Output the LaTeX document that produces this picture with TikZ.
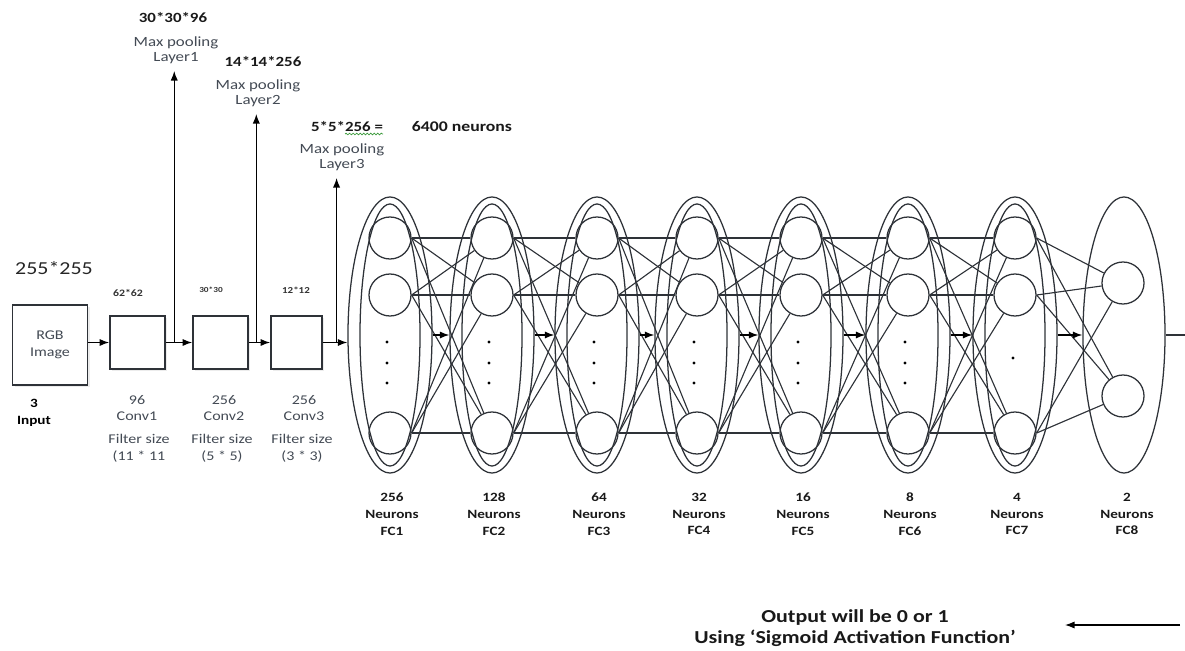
\documentclass[tikz,border=0pt]{standalone}
\usepackage{fontspec}
\setmainfont{Carlito}[FakeStretch=1.2]
\usetikzlibrary{shadows, positioning, shapes.geometric, calc, arrows.meta, decorations.pathmorphing}
\definecolor{inkgray}{HTML}{2E3238}
\definecolor{labelgray}{HTML}{434A54}
\definecolor{spellgreen}{HTML}{3C9A3C}

\begin{document}
\begin{tikzpicture}[
		x=0.025cm, y=-0.025cm,
		>={Latex[length=2.4mm,width=1.8mm]},
		layerbox/.style={
			draw=inkgray, line width=1.2pt, fill=white,
			minimum width=1.375cm, minimum height=1.325cm,
			drop shadow={opacity=0.15, shadow xshift=0.6mm, shadow yshift=-0.6mm}
		},
		neuron/.style={circle, draw=inkgray, line width=0.9pt, minimum size=1.05cm, inner sep=0pt},
		outerlayer/.style={ellipse, draw=inkgray, line width=0.9pt, minimum width=2.1cm, minimum height=6.9cm, inner sep=0pt},
		innerlayer/.style={ellipse, draw=inkgray, line width=0.9pt, minimum width=1.5cm, minimum height=6.55cm, inner sep=0pt},
		link/.style={draw=inkgray, line width=0.8pt},
		flow/.style={->, draw=black, line width=0.9pt},
		sizetext/.style={font=\bfseries\fontsize{10}{11}\selectfont, text=black!90},
		pooltext/.style={font=\fontsize{10}{10.8}\selectfont, text=labelgray, align=center, inner sep=1pt},
		convtext/.style={font=\fontsize{9.5}{12}\selectfont, text=labelgray, align=center},
		fctext/.style={font=\bfseries\fontsize{9}{12}\selectfont, text=black!90, align=center}
		]
		\useasboundingbox (0,0) rectangle (1185,651);
		
		% ==========================================
		% INPUT AND CONVOLUTION BLOCKS
		% ==========================================
		
		\node[font=\fontsize{13}{14}\selectfont, text=black!85] (insize) at (54,268) {255*255};
		\node[layerbox, minimum width=1.875cm, minimum height=2cm, convtext] (rgb) at (50,345) {RGB\\Image};
		\node[font=\bfseries\fontsize{9}{12}\selectfont, align=center] (inlab) at (34,413) {3\\Input};
		
		\node[layerbox] (conv1) at (137.5,342.5) {};
		\node[layerbox] (conv2) at (220.5,342.5) {};
		\node[layerbox, minimum width=1.275cm] (conv3) at (296.5,342.5) {};
		
		% Feature map sizes above the boxes
		\node[font=\bfseries\fontsize{7}{8}\selectfont, text=black!80] (c1size) at (128,293) {62*62};
		\node[font=\bfseries\fontsize{5.5}{6}\selectfont, text=black!80] (c2size) at (211,290) {30*30};
		\node[font=\bfseries\fontsize{6.5}{7}\selectfont, text=black!80] (c3size) at (296,290) {12*12};
		
		% Captions below the boxes
		\node[convtext] (c1lab) at (137,408) {96\\Conv1};
		\node[convtext] (c1filt) at (139,448) {Filter size\\(11 * 11};
		\node[convtext] (c2lab) at (224,408) {256\\Conv2};
		\node[convtext] (c2filt) at (222,448) {Filter size\\(5 * 5)};
		\node[convtext] (c3lab) at (304,408) {256\\Conv3};
		\node[convtext] (c3filt) at (302,448) {Filter size\\(3 * 3)};
		
		% ==========================================
		% FULLY CONNECTED LAYERS
		% ==========================================
		
		\foreach \name/\xc/\count in {1/390/256, 2/492/128, 3/597/64, 4/697/32, 5/801/16, 6/908/8, 7/1015/4} {
			\node[outerlayer] (fc\name) at (\xc,335) {};
			\node[innerlayer] (fc\name inner) at (\xc,335) {};
			\node[neuron] (fc\name top) at (\xc,238) {};
			\node[neuron] (fc\name mid) at (\xc,295) {};
			\node[neuron] (fc\name bot) at (\xc,433) {};
			\node[fctext] (fc\name lab) at (\xc+2,514) {\count\\Neurons\\FC\name};
		}
		
		% Last layer: two neurons, single ellipse
		\node[outerlayer, minimum width=2.05cm] (fc8) at (1124,335) {};
		\node[neuron] (fc8top) at (1123,283) {};
		\node[neuron] (fc8bot) at (1123,396) {};
		\node[fctext] (fc8lab) at (1127,514) {2\\Neurons\\FC8};
		
		% Dots for the hidden neurons
		\foreach \xc in {390, 492, 597, 697, 801, 908} {
			\foreach \yc in {342, 363, 383}
				\fill[black] (\xc-3,\yc) circle (1.2pt);
		}
		\fill[black] (1013,358) circle (1.2pt);
		
		% Dense connections
		\foreach \i/\j in {1/2, 2/3, 3/4, 4/5, 5/6, 6/7} {
			\foreach \s in {top, mid, bot}
				\foreach \t in {top, mid, bot}
					\draw[link] (fc\i\s.east) -- (fc\j\t);
			\draw[flow] (fc\i.east) -- (fc\j.west);
		}
		\foreach \s in {top, mid, bot} {
			\draw[link] (fc7\s.east) -- (fc8top);
			\draw[link] (fc7\s.east) -- (fc8bot);
		}
		\draw[flow] (fc7.east) -- (fc8.west);
		
		% ==========================================
		% DATA FLOW AND POOLING BRANCHES
		% ==========================================
		
		\draw[flow] (rgb.east |- conv1) -- (conv1.west);
		\draw[flow] (conv1) -- (conv2);
		\draw[flow] (conv2) -- (conv3);
		\draw[flow] (conv3.east) -- (conv3.east -| fc1.west);
		
		\coordinate (pool1) at ($(conv1.east)!0.32!(conv2.west)$);
		\coordinate (pool2) at ($(conv2.east)!0.35!(conv3.west)$);
		\coordinate (pool3) at ($(conv3.east)!0.56!(conv3.east -| fc1.west)$);
		
		\node[sizetext] (sz1) at (173,18) {30*30*96};
		\node[pooltext] (mp1) at (176,50) {Max pooling\\Layer1};
		\node[sizetext] (sz2) at (263,62) {14*14*256};
		\node[pooltext] (mp2) at (258,93) {Max pooling\\Layer2};
		\node[sizetext] (sz3) at (347,127) {5*5*256 =};
		\node[pooltext] (mp3) at (342,157) {Max pooling\\Layer3};
		\node[font=\bfseries\fontsize{10.5}{12}\selectfont, text=black!90] (total) at (462,127) {6400 neurons};
		\draw[spellgreen, line width=0.5pt, decorate, decoration={snake, amplitude=0.6pt, segment length=2.5pt}]
		(345,134) -- (383,134);
		
		\draw[flow] (pool1) -- ([yshift=-4pt]mp1.south -| pool1);
		\draw[flow] (pool2) -- ([yshift=-4pt]mp2.south -| pool2);
		\draw[flow] (pool3) -- ([yshift=-4pt]mp3.south -| pool3);
		
		% ==========================================
		% OUTPUT
		% ==========================================
		
		\coordinate (edge) at (1185,329);
		\draw[link, line width=1pt] (fc8.east) -- (edge |- fc8.east);
		
		\node[font=\bfseries\fontsize{13}{15}\selectfont, align=center, text=black!90] (outtext) at (855,628)
		{Output will be 0 or 1\\Using ‘Sigmoid Activation Function’};
		\coordinate (outstart) at (1180,625);
		\coordinate (outend) at (1065,625);
		\draw[flow] (outstart) -- (outend);
		
	\end{tikzpicture}
\end{document}
